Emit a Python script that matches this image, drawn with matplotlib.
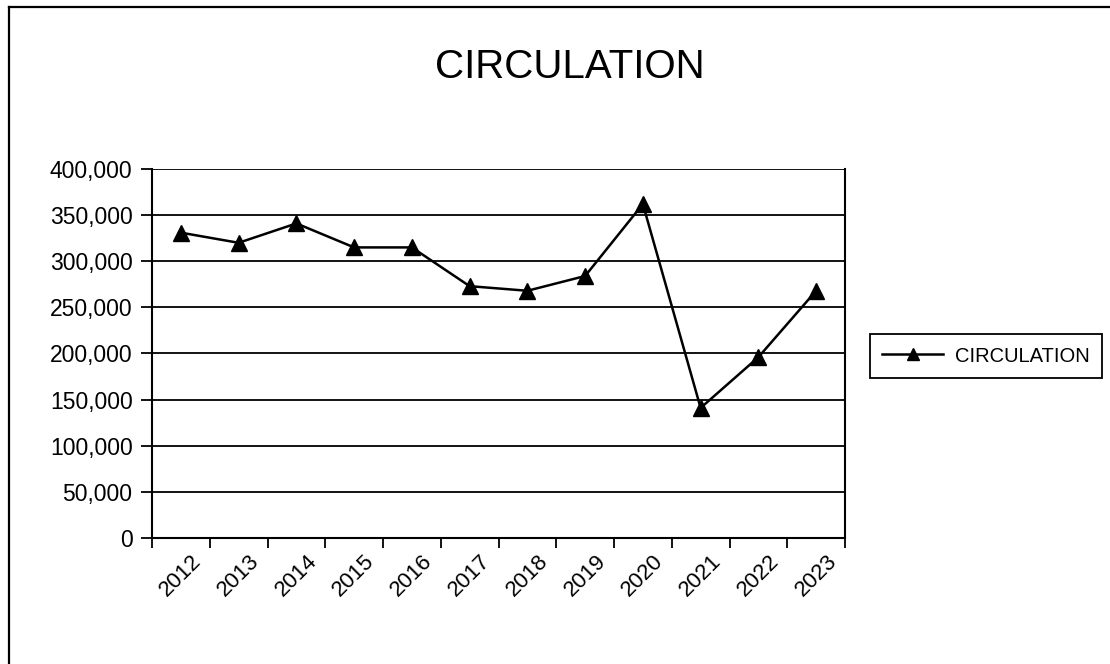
import matplotlib
matplotlib.use("Agg")
import matplotlib.pyplot as plt
import matplotlib.transforms as mtransforms
from matplotlib.ticker import FuncFormatter, MultipleLocator
from matplotlib.lines import Line2D

plt.rcParams['font.family'] = ['Liberation Sans', 'DejaVu Sans']

years = ["2012", "2013", "2014", "2015", "2016", "2017",
         "2018", "2019", "2020", "2021", "2022", "2023"]
circulation = [331000, 320000, 341000, 315000, 315000, 273000,
               268000, 284000, 362000, 141000, 196000, 268000]
series_name = "CIRCULATION"

W, H = 1110, 664
fig = plt.figure(figsize=(W / 100, H / 100), dpi=100)

# chart-area border: top and left edges
bx, by = 8.5 / W, 1 - 7 / H
fig.lines.append(Line2D([bx, 1.0], [by, by], transform=fig.transFigure,
                        color="black", linewidth=1.6))
fig.lines.append(Line2D([bx, bx], [0.0, by], transform=fig.transFigure,
                        color="black", linewidth=1.6))

left, right, top, bottom = 152, 845, 169, 538
ax = fig.add_axes([left / W, 1 - bottom / H, (right - left) / W, (bottom - top) / H])

x = list(range(len(years)))
ax.plot(x, circulation, color="black", linewidth=1.8, marker="^",
        markersize=11, markerfacecolor="black", markeredgecolor="black",
        label=series_name, zorder=3)

ax.set_xlim(-0.5, len(years) - 0.5)
ax.set_ylim(0, 400000)
ax.yaxis.set_major_locator(MultipleLocator(50000))
ax.yaxis.set_major_formatter(FuncFormatter(lambda v, p: f"{int(v):,}"))
ax.grid(axis="y", color="black", linewidth=1.3)
ax.set_axisbelow(True)

# category ticks sit between categories, labels under each category
ax.set_xticks([i - 0.5 for i in range(len(years) + 1)], minor=False)
ax.set_xticklabels([])
ax.set_xticks(x, minor=True)
ax.set_xticklabels(years, minor=True, rotation=45, ha="right",
                   rotation_mode="anchor", fontsize=16)
ax.tick_params(axis="x", which="minor", length=0, pad=9)
ax.tick_params(axis="x", which="major", length=7, width=1.3, direction="out")
ax.tick_params(axis="y", length=8, width=1.3, labelsize=16.5, pad=6)

shift = mtransforms.ScaledTranslation(10 / 100, 0, fig.dpi_scale_trans)
for lbl in ax.get_xticklabels(minor=True):
    lbl.set_transform(lbl.get_transform() + shift)

for s in ax.spines.values():
    s.set_linewidth(1.5)
    s.set_color("black")
ax.spines["top"].set_visible(False)

fig.text(570 / W, 1 - 67 / H, "CIRCULATION", ha="center", va="center", fontsize=29)

leg = fig.legend(loc="center", bbox_to_anchor=(986 / W, 1 - 356 / H),
                 fontsize=14.5, frameon=True, fancybox=False, edgecolor="black",
                 framealpha=1, handlelength=3.0, borderpad=0.6, handletextpad=0.6)
leg.get_frame().set_linewidth(1.3)
for h in leg.legend_handles:
    h.set_markersize(9)

fig.savefig("out.png", dpi=100)
